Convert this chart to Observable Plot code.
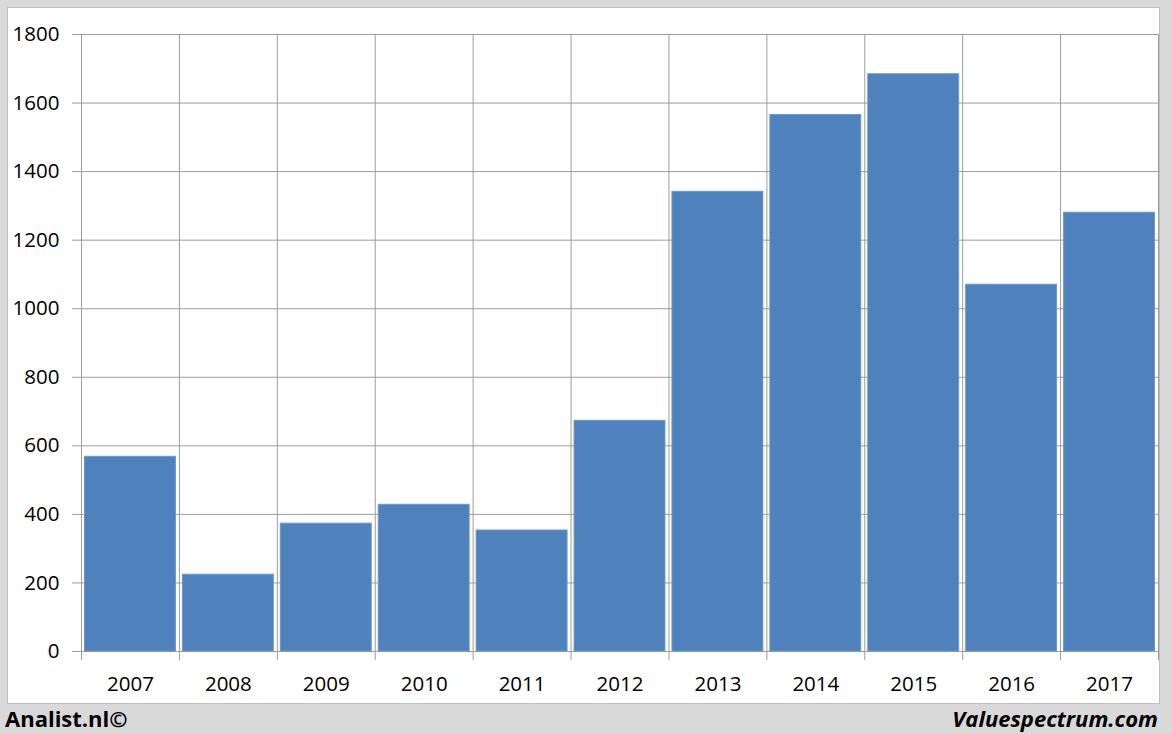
<!DOCTYPE html>
<html>
<head>
<meta charset="utf-8">
<script src="https://cdn.jsdelivr.net/npm/d3@7"></script>
<script src="https://cdn.jsdelivr.net/npm/@observablehq/plot@0.6"></script>
<style>
  html, body { margin: 0; padding: 0; }
  body { width: 1172px; height: 734px; background: #d9d9d9; position: relative; overflow: hidden; font-family: "Open Sans", sans-serif; }
  #panel { position: absolute; left: 7px; top: 7px; width: 1151px; height: 695px; background: #fff; border: 1px solid #bfbfbf; }
  #chart { position: absolute; left: 0; top: 0; }
  .foot { position: absolute; top: 703px; height: 30px; line-height: 30px; font-weight: 700; font-size: 22px; color: #000; }
  #left { left: 5px; }
  #right { right: 14px; font-style: italic; }
</style>
</head>
<body>
<div id="panel"></div>
<div id="chart"></div>
<div class="foot" id="left">Analist.nl©</div>
<div class="foot" id="right">Valuespectrum.com</div>
<script>
const years = ["2007","2008","2009","2010","2011","2012","2013","2014","2015","2016","2017"];
const values = [568, 224, 373, 428, 353, 673, 1341, 1565, 1684, 1070, 1280];
const yTicks = [0, 200, 400, 600, 800, 1000, 1200, 1400, 1600, 1800];

const data = years.map((y, i) => ({year: y, i, value: values[i]}));
const bounds = d3.range(years.length + 1);
const centers = years.map((_, i) => i + 0.5);
const gridColor = "#9c9c9c";

const chart = Plot.plot({
  width: 1172,
  height: 703,
  marginLeft: 81,
  marginRight: 14,
  marginTop: 34,
  marginBottom: 52,
  style: {background: "transparent", fontFamily: "'Open Sans', sans-serif", fontSize: "20px", color: "#000"},
  x: {type: "linear", domain: [0, years.length], axis: null, label: null},
  y: {domain: [0, 1800], axis: null, label: null},
  marks: [
    Plot.ruleY(yTicks, {stroke: gridColor, strokeWidth: 1}),
    Plot.axisY({ticks: yTicks, tickSize: 9, tickPadding: 13, stroke: gridColor, fill: "#000", fontSize: 20.5, label: null, tickFormat: d => String(d)}),
    Plot.ruleX(bounds, {y1: 0, y2: 1800, stroke: gridColor, strokeWidth: 1}),
    Plot.axisX({ticks: bounds, tickSize: 9, tickFormat: () => "", stroke: gridColor, label: null}),
    Plot.rectY(data, {x1: "i", x2: d => d.i + 1, y: "value", fill: "#4f81bd", stroke: "#6d96c9", strokeWidth: 1, insetLeft: 3.5, insetRight: 3.5}),
    Plot.axisX({ticks: centers, tickSize: 0, tickPadding: 25, tickFormat: d => years[Math.floor(d)], fill: "#000", fontSize: 20.5, label: null})
  ]
});
document.getElementById("chart").appendChild(chart);
</script>
</body>
</html>
